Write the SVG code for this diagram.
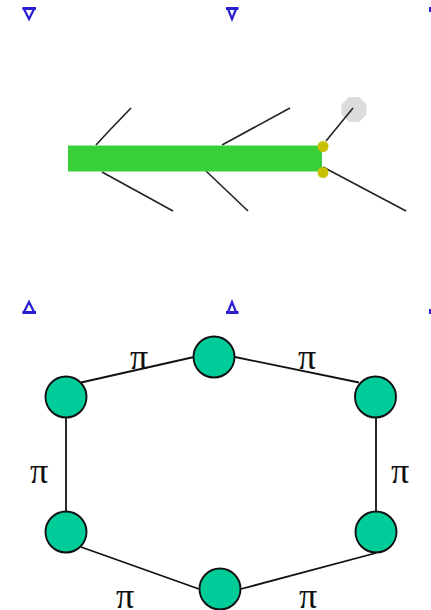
<svg xmlns="http://www.w3.org/2000/svg" width="431" height="610" viewBox="0 0 431 610">
<style>
.tick{fill:none;stroke:#2a1fd0;stroke-width:2.2}
.bar{fill:none;stroke:#2a1fd0;stroke-width:3}
.thin{fill:none;stroke:#222;stroke-width:1.6}
.edge{fill:none;stroke:#111;stroke-width:1.8}
.n{fill:#00cc99;stroke:#111;stroke-width:1.9}
.pi{font-family:"Liberation Serif",serif;font-size:36px;fill:#111;text-anchor:middle}
.dot{fill:#c8c000}
</style>
<rect width="431" height="610" fill="#fff"/>
<g id="ticks">
<path class="tick" d="M24 9H34L29 19Z"/><path class="bar" d="M22.500 8.500H36"/>
<path class="tick" d="M228 9H236L232 19Z"/><path class="bar" d="M226 8.500H238.500"/>
<path class="bar" d="M430.500 7V12"/>
<path class="tick" d="M24 312H34L29 302Z"/><path class="bar" d="M22.500 312.500H36"/>
<path class="tick" d="M228 312H236L232 302Z"/><path class="bar" d="M226 312.500H238.500"/>
<path class="bar" d="M430.500 309V314"/>
</g>
<g id="grey-marker"><path d="M349 97H359L366.500 104.500V114.500L359 122H349L341.500 114.500V104.500Z" fill="#dcdcdc"/></g>
<g id="connectors">
<path class="thin" d="M96 145L107 133L131 108"/>
<path class="thin" d="M222 145L290 108"/>
<path class="thin" d="M102 172L173 211"/>
<path class="thin" d="M206 171L248 211"/>
<path class="thin" d="M326 141L353 108"/>
<path class="thin" d="M323 167L406 211"/>
<path class="edge" d="M81 382.500L194 357"/>
<path class="edge" d="M235 357L359 382.500"/>
<path class="edge" d="M376 417V512"/>
<path class="edge" d="M66 417V512"/>
<path class="edge" d="M81 547L199 589"/>
<path class="edge" d="M241 589L376 553"/>
</g>
<g id="bar-shape"><rect x="68" y="145.500" width="254" height="26" fill="#39cf39"/></g>
<g id="joint-top"><circle class="dot" cx="323" cy="146.500" r="5.500"/></g>
<g id="joint-bottom"><circle class="dot" cx="323" cy="172.500" r="5.500"/></g>
<g id="n1"><circle class="n" cx="66" cy="397" r="20.500"/></g>
<g id="n2"><circle class="n" cx="214" cy="357" r="20.500"/></g>
<g id="n3"><circle class="n" cx="375.500" cy="397" r="20.500"/></g>
<g id="n4"><circle class="n" cx="66" cy="532" r="20.500"/></g>
<g id="n5"><circle class="n" cx="376" cy="532" r="20.500"/></g>
<g id="n6"><circle class="n" cx="220" cy="589" r="20.500"/></g>
<g id="labels">
<text class="pi" x="139" y="369">π</text>
<text class="pi" x="307" y="369">π</text>
<text class="pi" x="39" y="483">π</text>
<text class="pi" x="400" y="483">π</text>
<text class="pi" x="125" y="608">π</text>
<text class="pi" x="308" y="608">π</text>
</g>
</svg>
